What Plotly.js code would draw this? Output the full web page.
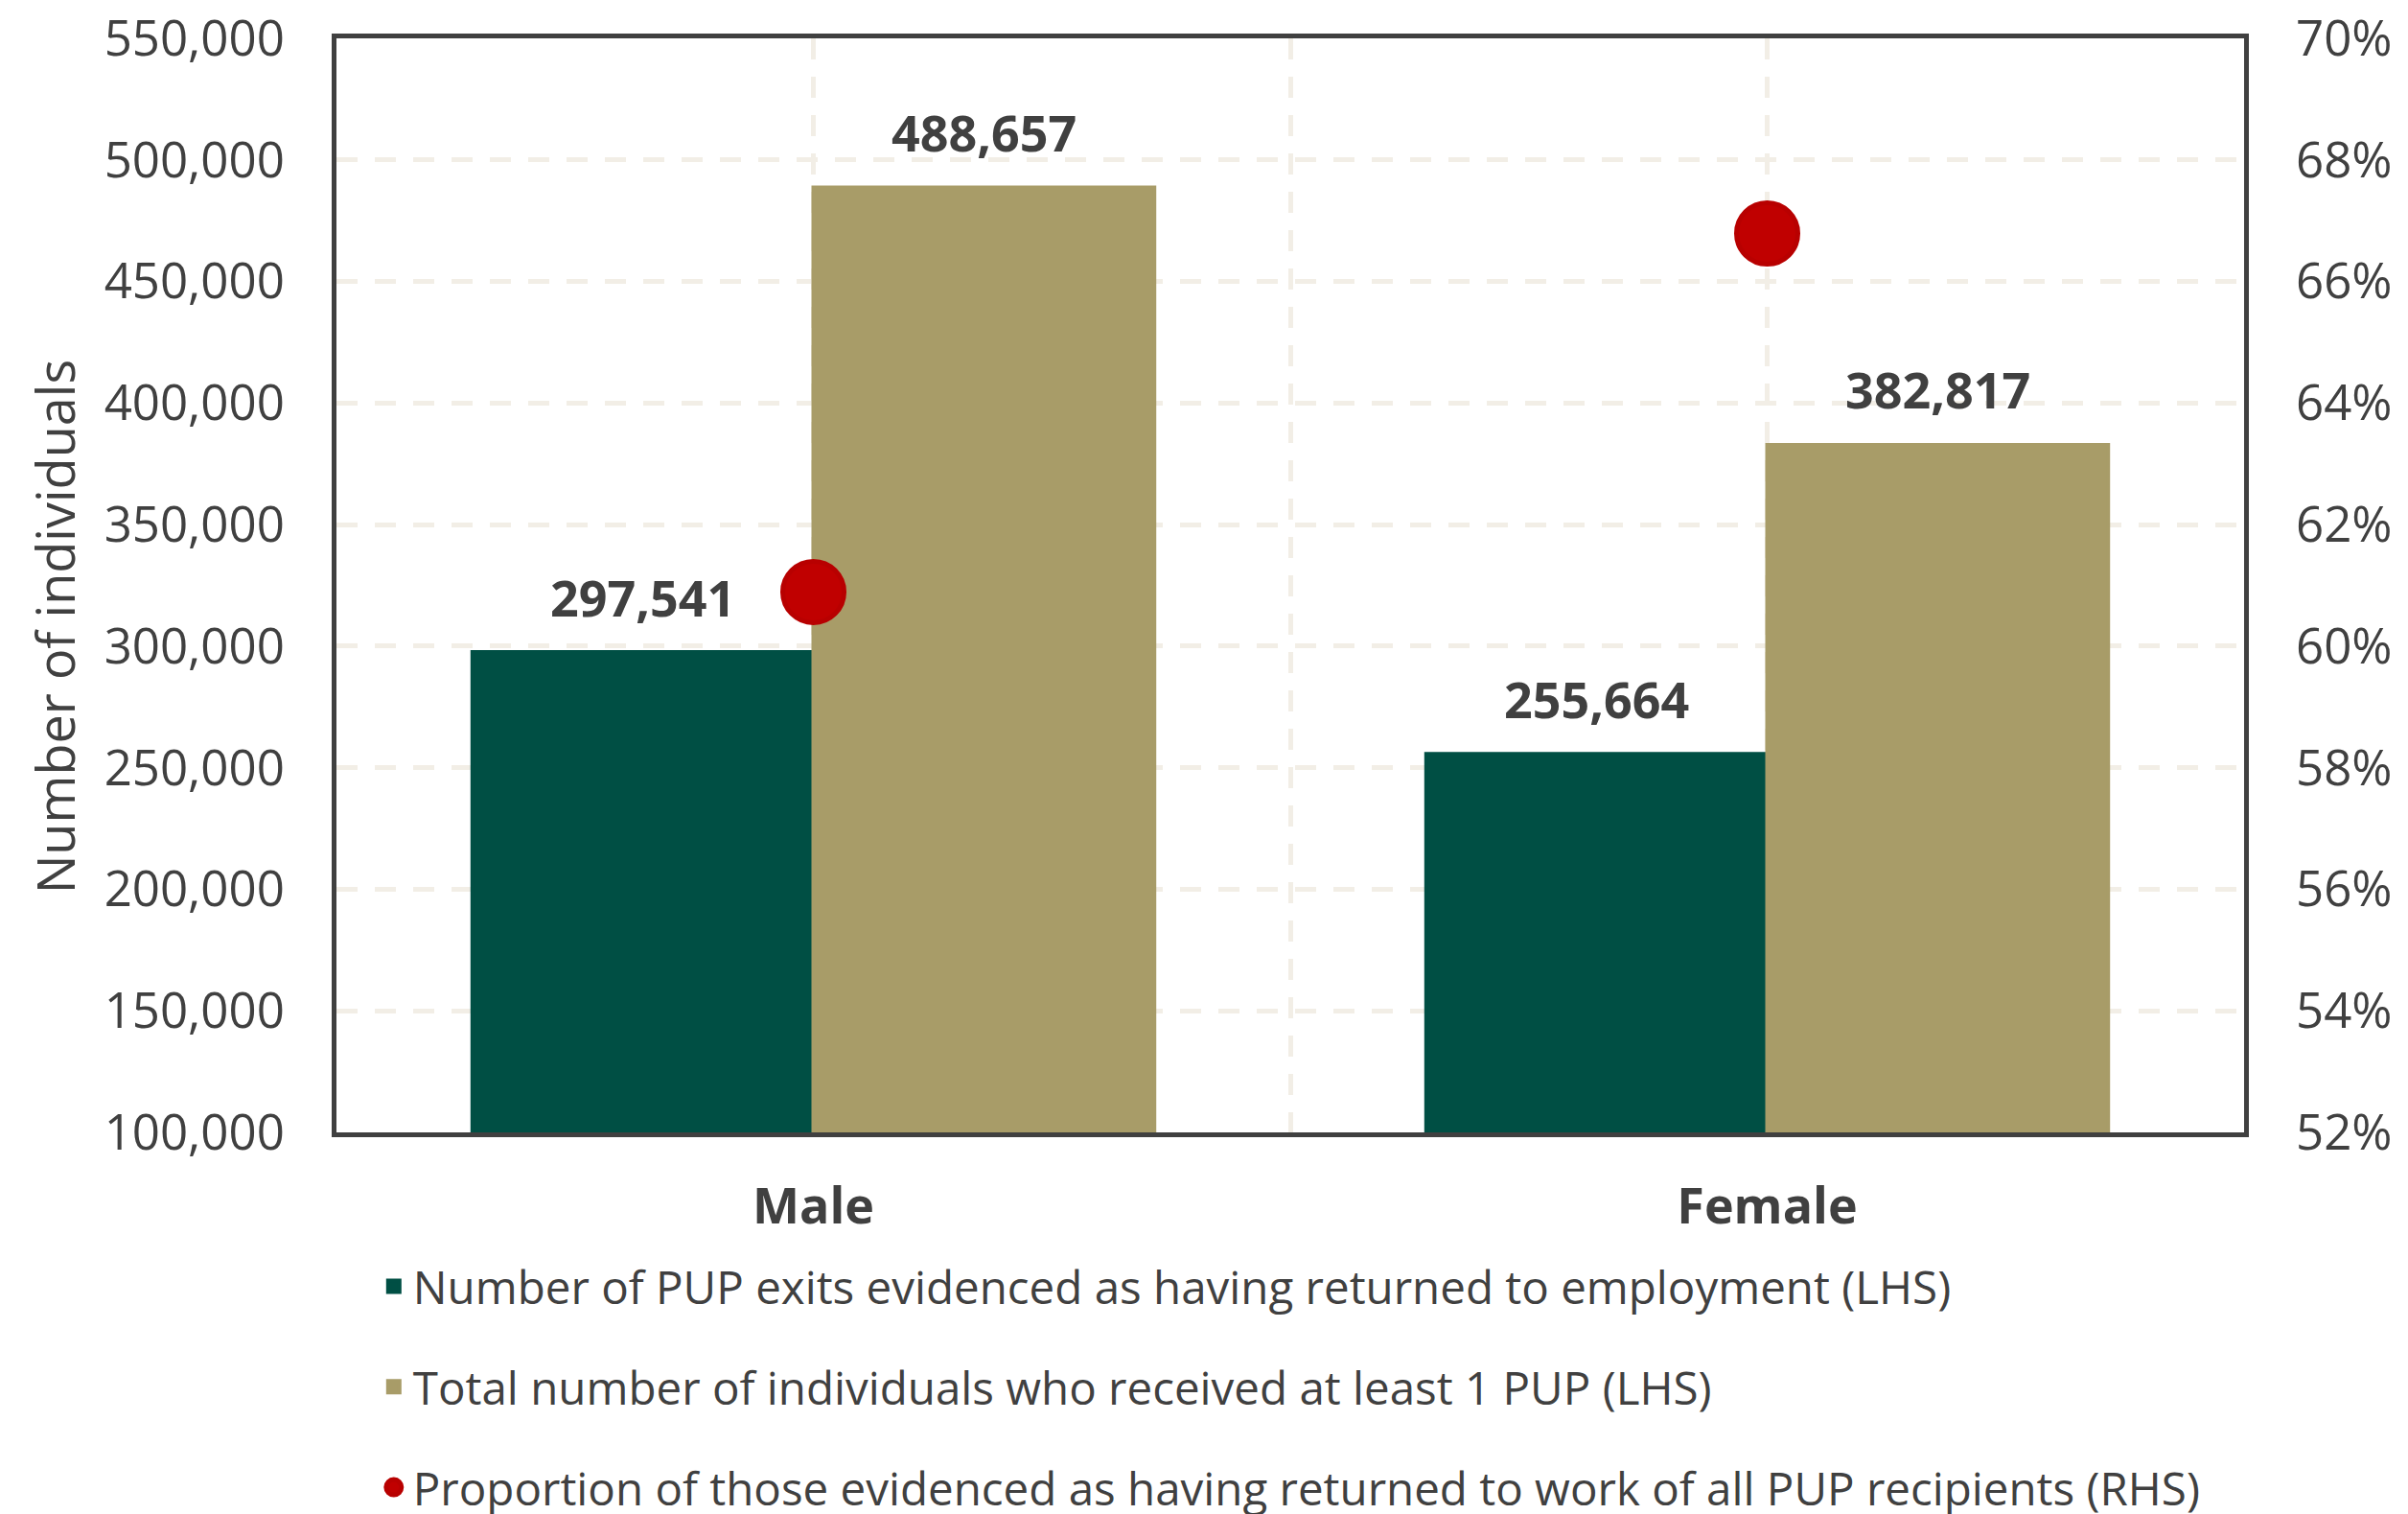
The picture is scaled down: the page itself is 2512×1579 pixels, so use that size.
<!DOCTYPE html>
<html>
<head>
<meta charset="utf-8">
<script src="https://cdn.plot.ly/plotly-3.0.1.min.js"></script>
<style>html,body{margin:0;padding:0;background:#fff;}#chart{width:2512px;height:1579px;}</style>
</head>
<body>
<div id="chart"></div>
<script>
const categories = ["Male", "Female"];
const returnedToEmployment = [297541, 255664];
const totalRecipients = [488657, 382817];
const proportionReturned = [0.6089, 0.6679];
const seriesNames = [
  "Number of PUP exits evidenced as having returned to employment (LHS)",
  "Total number of individuals who received at least 1 PUP (LHS)",
  "Proportion of those evidenced as having returned to work of all PUP recipients (RHS)"
];
const leftTicks = [100000,150000,200000,250000,300000,350000,400000,450000,500000,550000];
const rightTicks = [0.52,0.54,0.56,0.58,0.60,0.62,0.64,0.66,0.68,0.70];

const FONT = "Open Sans, Noto Sans, sans-serif";
const TXT = "#404040";
const GRID = "#F2EEE6";
const GREEN = "#004F44", TAN = "#A89C68", RED = "#C00000";

const fmt = v => v.toLocaleString("en-US");

const W = 2512, H = 1579;
const M = {l:351, r:171, t:40, b:398};
const BARGAP = 0.285;
// half width of one bar in pixels, from the layout's own bar gap
const plotW = W - M.l - M.r;
const barHalf = plotW / categories.length * (1 - BARGAP) / 2 / 2;

const traces = [
  {type:"bar", name:seriesNames[0], x:categories, y:returnedToEmployment,
   marker:{color:GREEN, line:{color:GREEN, width:4}}, legendgroup:"a", hoverinfo:"skip"},
  {type:"bar", name:seriesNames[1], x:categories, y:totalRecipients,
   marker:{color:TAN, line:{color:TAN, width:4}}, legendgroup:"b", hoverinfo:"skip"},
  {type:"scatter", mode:"markers", name:seriesNames[2], x:categories, y:proportionReturned,
   yaxis:"y2", marker:{color:RED, size:64, line:{color:"#B80000", width:5}},
   legendgroup:"c", cliponaxis:false, hoverinfo:"skip"},
  {type:"scatter", mode:"markers", x:[-0.5,1.5], y:[null,null], xaxis:"x2", yaxis:"y",
   showlegend:false, hoverinfo:"skip"}
];

const annotations = [];
categories.forEach((c, i) => {
  [[returnedToEmployment, -1], [totalRecipients, 1]].forEach(([arr, side]) => {
    annotations.push({x:c, y:arr[i], xref:"x", yref:"y", text:fmt(arr[i]), showarrow:false,
      xanchor:"center", yanchor:"middle", xshift:side*barHalf, yshift:58,
      font:{family:FONT, size:52, color:TXT, weight:"bold"}});
  });
});
annotations.push({x:-0.148, y:0.462, xref:"paper", yref:"paper", text:"Number of individuals",
  textangle:-90, showarrow:false, xanchor:"center", yanchor:"middle",
  font:{family:FONT, size:54, color:TXT}});

const layout = {
  width:W, height:H,
  paper_bgcolor:"#fff", plot_bgcolor:"#fff",
  margin:{l:M.l, r:M.r, t:M.t, b:M.b, autoexpand:false},
  font:{family:FONT, color:TXT, size:48},
  barmode:"group", bargap:BARGAP, bargroupgap:0,
  showlegend:true,
  annotations:annotations,
  legend:{x:0.02, xanchor:"left", y:-0.108, yanchor:"top", orientation:"v",
          traceorder:"grouped", tracegroupgap:40, font:{family:FONT, size:47.5, color:TXT},
          itemsizing:"trace", bgcolor:"rgba(0,0,0,0)"},
  xaxis:{type:"category", range:[-0.5,1.5], showgrid:false, zeroline:false,
         tickfont:{family:FONT, size:52, color:TXT, weight:"bold"},
         ticks:"", ticklabelstandoff:28,
         showline:true, linecolor:"#404040", linewidth:5, mirror:true},
  xaxis2:{overlaying:"x", range:[-0.5,1.5], tick0:-0.5, dtick:0.5, showgrid:true,
          gridcolor:GRID, gridwidth:5, griddash:"22px,18px",
          showticklabels:false, ticks:"", zeroline:false, showline:false, side:"bottom"},
  yaxis:{range:[100000,550000], tickvals:leftTicks, ticktext:leftTicks.map(fmt),
         showgrid:true, gridcolor:GRID, gridwidth:5, griddash:"22px,18px",
         zeroline:false, ticks:"", ticklabelstandoff:39,
         tickfont:{family:FONT, size:51, color:TXT},
         showline:true, linecolor:"#404040", linewidth:5, mirror:true},
  yaxis2:{overlaying:"y", side:"right", range:[0.52,0.70], tickvals:rightTicks,
          tickformat:".0%", showgrid:false, zeroline:false, ticks:"", ticklabelstandoff:53,
          tickfont:{family:FONT, size:51, color:TXT}}
};

Plotly.newPlot("chart", traces, layout, {staticPlot:true});
</script>
</body>
</html>
